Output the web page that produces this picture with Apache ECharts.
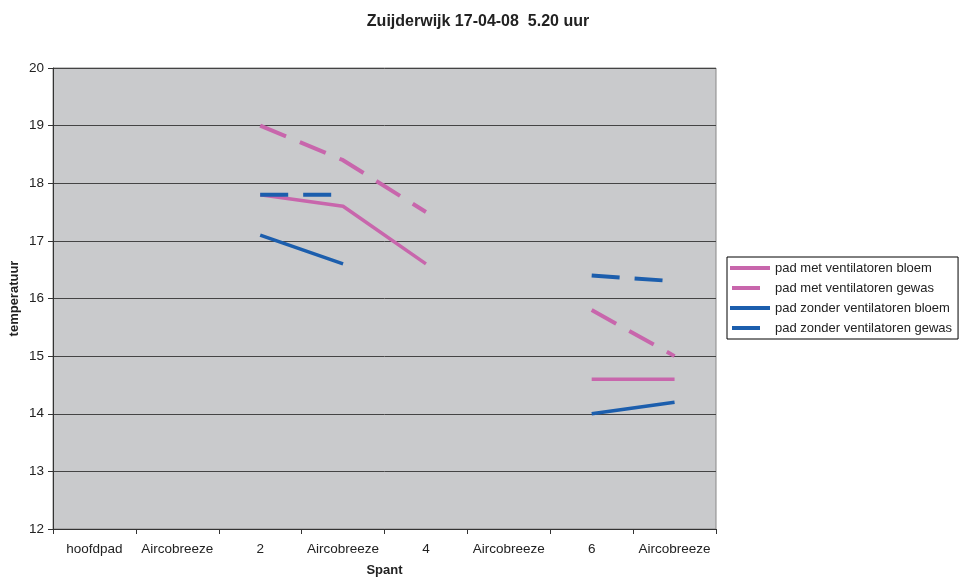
<!DOCTYPE html>
<html>
<head>
<meta charset="utf-8">
<script src="https://cdn.jsdelivr.net/npm/echarts@6/dist/echarts.min.js"></script>
<style>html,body{margin:0;padding:0;background:#fff}#c{width:960px;height:579px}</style>
</head>
<body>
<div id="c"></div>
<script>
var categories = ['hoofdpad', 'Aircobreeze', '2', 'Aircobreeze', '4', 'Aircobreeze', '6', 'Aircobreeze'];
var metBloem = [null, null, 17.8, 17.6, 16.6, null, 14.6, 14.6];
var metGewas = [null, null, 19.0, 18.4, 17.5, null, 15.8, 15.0];
var zonderBloem = [null, null, 17.1, 16.6, null, null, 14.0, 14.2];
var zonderGewas = [null, null, 17.8, 17.8, null, null, 16.4, 16.3];
var seriesNames = ['pad met ventilatoren bloem', 'pad met ventilatoren gewas', 'pad zonder ventilatoren bloem', 'pad zonder ventilatoren gewas'];

var PINK = '#C866AC', BLUE = '#1C5EAD';
var FONT = 'Liberation Sans, Arial, sans-serif';
var SOLID_ICON = 'path://M0,0h0.01v0.01zM0,5H40V9H0ZM40,14h-0.01v-0.01z';
var DASH_ICON = 'path://M0,0h0.01v0.01zM2,5H30V9H2ZM40,14h-0.01v-0.01z';
function mk(name, data, color, dashed) {
  return {
    name: name, type: 'line', data: data, symbol: 'none', connectNulls: false,
    lineStyle: { color: color, width: dashed ? 4 : 3.5, type: dashed ? [28, 15] : 'solid', cap: 'butt' },
    itemStyle: { color: color }, emphasis: { disabled: true }, z: 3
  };
}
var chart = echarts.init(document.getElementById('c'), null, { renderer: 'canvas' });
chart.setOption({
  animation: false,
  textStyle: { fontFamily: FONT },
  title: {
    text: 'Zuijderwijk 17-04-08  5.20 uur', left: 473, top: 9, textAlign: 'center',
    textStyle: { fontSize: 16, fontWeight: 'bold', color: '#222', fontFamily: FONT }
  },
  grid: {
    left: 53, right: 244, top: 68, bottom: 50, show: true, containLabel: false,
    outerBoundsMode: 'none',
    backgroundColor: '#C9CACC', borderColor: '#888', borderWidth: 1
  },
  legend: {
    orient: 'vertical', left: 727, top: 257, width: 232,
    padding: [4, 6, 4, 3], itemGap: 6, itemWidth: 40, itemHeight: 14,
    borderColor: '#000', borderWidth: 1, backgroundColor: '#fff',
    textStyle: { fontSize: 13, color: '#222', fontFamily: FONT },
    data: [
      { name: seriesNames[0], icon: SOLID_ICON, itemStyle: { color: PINK } },
      { name: seriesNames[1], icon: DASH_ICON, itemStyle: { color: PINK } },
      { name: seriesNames[2], icon: SOLID_ICON, itemStyle: { color: BLUE } },
      { name: seriesNames[3], icon: DASH_ICON, itemStyle: { color: BLUE } }
    ]
  },
  xAxis: {
    type: 'category', data: categories, boundaryGap: true,
    name: 'Spant', nameLocation: 'middle', nameGap: 35,
    nameTextStyle: { fontSize: 13, fontWeight: 'bold', color: '#222' },
    axisLine: { lineStyle: { color: '#333', width: 1 } },
    axisTick: { show: true, length: 5, inside: false, lineStyle: { color: '#333' } },
    axisLabel: { fontSize: 13.5, color: '#222', margin: 13, interval: 0 },
    splitLine: { show: false }
  },
  yAxis: {
    type: 'value', min: 12, max: 20, interval: 1,
    name: 'temperatuur', nameLocation: 'middle', nameGap: 32, nameMoveOverlap: false,
    nameTextStyle: { fontSize: 13, fontWeight: 'bold', color: '#222' },
    axisLine: { show: true, lineStyle: { color: '#333', width: 1 } },
    axisTick: { show: true, length: 5, lineStyle: { color: '#333' } },
    axisLabel: { fontSize: 13.5, color: '#222', margin: 9 },
    splitLine: { show: true, lineStyle: { color: '#444', width: 1 } }
  },
  series: [
    mk(seriesNames[0], metBloem, PINK, false),
    mk(seriesNames[1], metGewas, PINK, true),
    mk(seriesNames[2], zonderBloem, BLUE, false),
    mk(seriesNames[3], zonderGewas, BLUE, true)
  ]
});
</script>
</body>
</html>
